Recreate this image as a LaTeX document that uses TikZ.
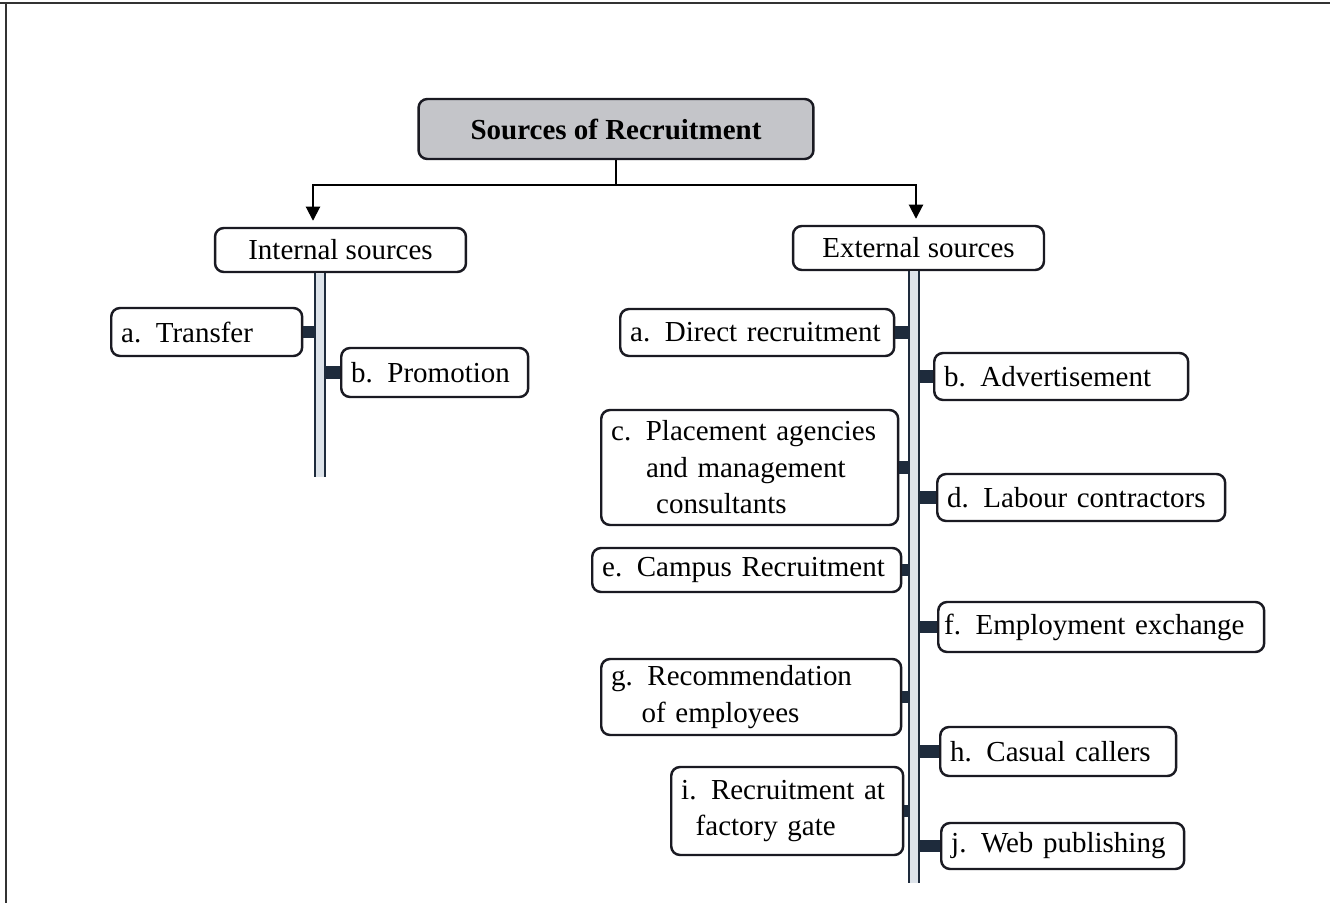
\documentclass[tikz,border=0pt]{standalone}
\usepackage{fontspec}
\setmainfont{Liberation Serif}
\usetikzlibrary{arrows.meta}

\definecolor{navy}{HTML}{1E2B3C}
\definecolor{boxline}{HTML}{1A1A22}
\definecolor{stemfill}{HTML}{DDE3EA}
\definecolor{titlefill}{HTML}{C4C5C9}

\begin{document}
\begin{tikzpicture}[x=0.02cm,y=-0.02cm,
    srcbox/.style={draw=boxline, line width=1.4pt, rounded corners=5pt, fill=white,
      anchor=west, align=left, inner xsep=0.2cm, inner ysep=0pt,
      font=\fontsize{16.5}{20.8}\selectfont},
    headbox/.style={draw=boxline, line width=1.4pt, rounded corners=5pt, fill=white,
      minimum width=5.02cm, minimum height=0.88cm, font=\fontsize{16.5}{20}\selectfont},
    flow/.style={draw=black, line width=1.1pt},
    tab/.style={draw=navy, line width=7pt},
    stem/.style={draw=navy, line width=1.3pt, double=stemfill, double distance=4pt}]

  \useasboundingbox (0,0) rectangle (1330,903);
  \draw[line width=1.2pt, black!80] (0,3) -- (1330,3);
  \draw[line width=1.2pt, black!80] (6,3) -- (6,903);

  % top of the tree
  \node[headbox, fill=titlefill, minimum width=7.9cm, minimum height=1.2cm,
    font=\fontsize{16.5}{20}\selectfont\bfseries] (title) at (616,129) {Sources of Recruitment};
  \node[headbox] (intern) at (340.5,250) {Internal sources};
  \node[headbox] (extern) at (918.5,248) {External sources};

  \coordinate (hub) at (616,185);
  \coordinate (intarr) at ([shift={(-27.5,-6)}]intern.north);
  \coordinate (extarr) at ([shift={(-2.5,-6)}]extern.north);
  \coordinate (istem) at (320,477);
  \coordinate (estem) at (914,883);

  \draw[flow] (title.south) -- (hub);
  \draw[flow, -{Triangle[length=8pt,width=8pt]}] (hub) -| (intarr);
  \draw[flow, -{Triangle[length=8pt,width=8pt]}] (hub) -| (extarr);

  % internal sources
  \begin{scope}[every node/.style={srcbox}]
    \node[text width=3.42cm, minimum height=0.96cm] (iA) at (110,332) {a.\enspace Transfer};
    \node[text width=3.34cm, minimum height=0.98cm] (iB) at (340,372.5) {b.\enspace Promotion};
  \end{scope}

  % external sources
  \begin{scope}[every node/.style={srcbox}]
    \node[text width=5.08cm, minimum height=0.94cm] (eA) at (619,332.5) {a.\enspace Direct recruitment};
    \node[text width=4.68cm, minimum height=0.94cm] (eB) at (933,376.5) {b.\enspace Advertisement};
    \node[text width=5.54cm, minimum height=2.30cm] (eC) at (600,467.5)
      {c.\enspace Placement agencies\\\hspace*{1.2em}and management\\\hspace*{1.55em}consultants};
    \node[text width=5.36cm, minimum height=0.94cm] (eD) at (936,497.5) {d.\enspace Labour contractors};
    \node[text width=5.78cm, minimum height=0.88cm] (eE) at (591,570) {e.\enspace Campus Recruitment};
    \node[text width=6.28cm, minimum height=1.00cm, inner xsep=0.12cm] (eF) at (937,627) {f.\enspace Employment exchange};
    \node[text width=5.60cm, minimum height=1.52cm] (eG) at (600,697)
      {g.\enspace Recommendation\\\hspace*{1.05em}of employees};
    \node[text width=4.32cm, minimum height=0.98cm] (eH) at (939,751.5) {h.\enspace Casual callers};
    \node[text width=4.24cm, minimum height=1.76cm] (eI) at (670,811)
      {i.\enspace Recruitment at\\\hspace*{0.5em}factory gate};
    \node[text width=4.46cm, minimum height=0.92cm] (eJ) at (940,846) {j.\enspace Web publishing};
  \end{scope}

  % tabs to the stems
  \path (iA.east) edge[tab] (iA.east -| istem);
  \path (iB.west) edge[tab] (iB.west -| istem);
  \foreach \n in {eA,eC,eE,eG,eI}
    \path (\n.east) edge[tab] (\n.east -| estem);
  \foreach \n in {eB,eD,eF,eH,eJ}
    \path (\n.west) edge[tab] (\n.west -| estem);

  \draw[stem] (intern.south -| istem) -- (istem);
  \draw[stem] (extern.south -| estem) -- (estem);

\end{tikzpicture}
\end{document}
